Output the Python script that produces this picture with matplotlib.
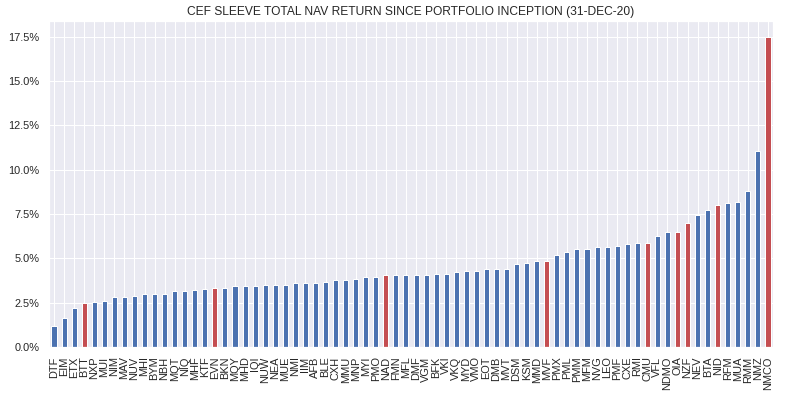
#!/usr/bin/env python3
# -*- coding: utf-8 -*-
"""CEF sleeve total NAV return bar chart"""

import matplotlib
matplotlib.use("Agg")
import pandas as pd
import seaborn as sns
from matplotlib import pyplot as plt
from matplotlib.ticker import PercentFormatter

TICKERS = [
    "DTF", "EIM", "ETX", "BTT", "NXP", "MUI", "NIM", "MAV", "NUV", "MHI",
    "BYM", "NBH", "MQT", "NIQ", "MHF", "KTF", "EVN", "BKN", "MQY", "MHD",
    "IQI", "NUW", "NEA", "MUE", "NMI", "IIM", "AFB", "BLE", "CXH", "MMU",
    "MNP", "MYI", "PMO", "NAD", "FMN", "MFL", "DMF", "VGM", "BFK", "VKI",
    "VKQ", "MYD", "VMO", "EOT", "DMB", "MVT", "DSM", "KSM", "MMD", "MVF",
    "PMX", "PML", "PMM", "MFM", "NVG", "LEO", "PMF", "CXE", "RMI", "CMU",
    "VFL", "NDMO", "OIA", "NZF", "NEV", "BTA", "NID", "RFM", "MUA", "RMM",
    "NMZ", "NMCO",
]
NAV_RETURN = [
    1.20, 1.66, 2.22, 2.50, 2.56, 2.62, 2.79, 2.79, 2.85, 3.01,
    3.01, 3.01, 3.18, 3.18, 3.24, 3.29, 3.35, 3.35, 3.41, 3.46,
    3.46, 3.52, 3.52, 3.52, 3.58, 3.63, 3.63, 3.69, 3.75, 3.80,
    3.86, 3.97, 3.97, 4.03, 4.08, 4.08, 4.08, 4.08, 4.14, 4.14,
    4.20, 4.31, 4.31, 4.37, 4.37, 4.37, 4.65, 4.71, 4.82, 4.82,
    5.21, 5.33, 5.50, 5.55, 5.61, 5.61, 5.72, 5.78, 5.84, 5.84,
    6.23, 6.46, 6.51, 6.97, 7.42, 7.70, 7.98, 8.10, 8.15, 8.77,
    11.03, 17.50,
]
HELD = ["BTT", "EVN", "NAD", "MVF", "CMU", "OIA", "NZF", "NID", "NMCO"]


def plot_returns():
    '''Draw the sorted NAV return bars'''
    sns.set()
    plt.rcParams["font.family"] = ["Liberation Sans", "DejaVu Sans"]

    returns = pd.Series(NAV_RETURN, index=TICKERS)
    palette = sns.color_palette("deep")
    colors = [palette[3] if t in HELD else palette[0] for t in TICKERS]

    fig = plt.figure(figsize=(786 / 72, 397 / 72), dpi=72)
    ax = fig.add_axes([0.0623, 0.126, 0.9212, 0.821])
    returns.plot(kind="bar", ax=ax, color=colors)
    ax.yaxis.set_major_formatter(PercentFormatter(decimals=1))
    ax.set_yticks([0, 2.5, 5, 7.5, 10, 12.5, 15, 17.5])
    ax.set_title(
        "CEF SLEEVE TOTAL NAV RETURN SINCE PORTFOLIO INCEPTION (31-DEC-20)",
        fontsize=12
    )
    fig.savefig("out.png", dpi=72)


def main():
    '''Launch main steps'''
    plot_returns()


if __name__ == "__main__":
    main()
